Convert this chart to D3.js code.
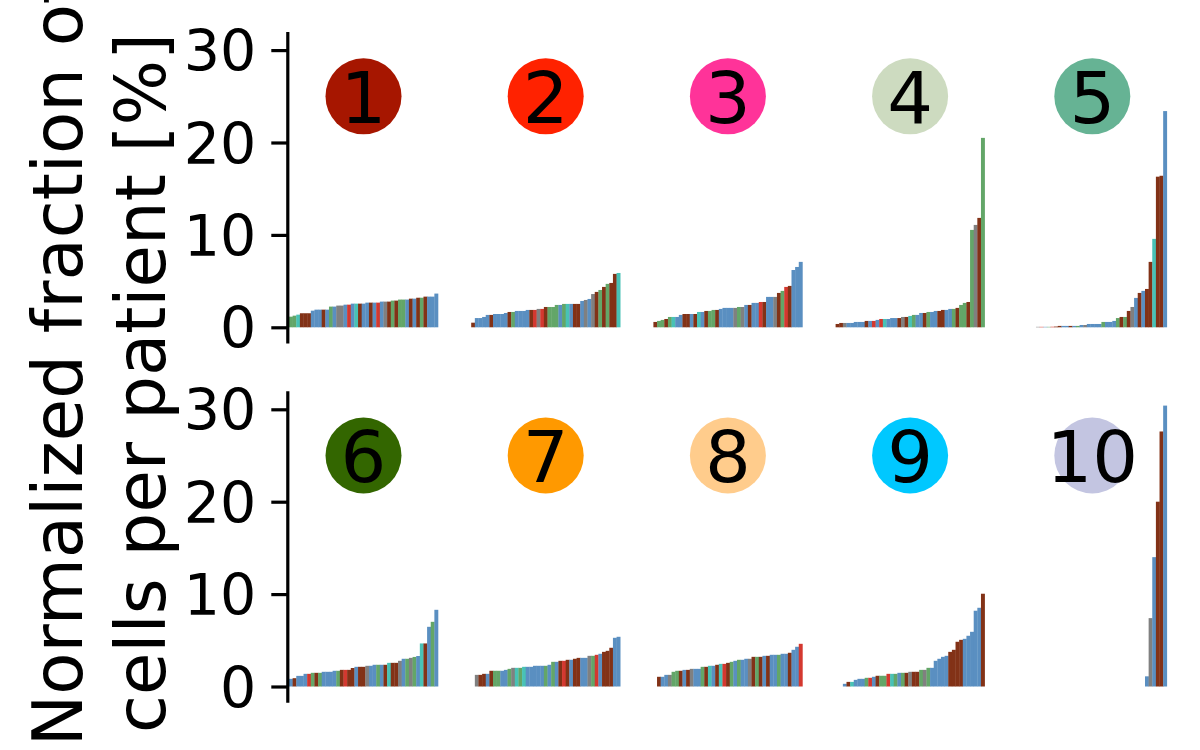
<!DOCTYPE html>
<html><head><meta charset="utf-8">
<script src="https://cdn.jsdelivr.net/npm/d3@7"></script>
<style>body{margin:0;background:#fff}svg{display:block}</style>
</head><body><svg id="c" width="1200" height="750"></svg>
<script>
// ---- data ----
const panelLabels = ["1","2","3","4","5","6","7","8","9","10"];
const panelColors = ["#a61600","#ff2200","#ff3399","#cddbc0","#66b394","#336600","#ff9900","#ffcc8c","#00c8ff","#c3c5e1"];
const yTicks = [0,10,20,30];
const groupNames = ["b","u","g","t","k","r"];
const groupColors = ["#823217","#5a8fc1","#63a668","#48c2b6","#808080","#d4382f"];

const p1Values = [1.15,1.26,1.37,1.52,1.52,1.52,1.8,1.91,1.91,1.91,1.91,2.24,2.24,2.35,2.35,2.45,2.45,2.56,2.56,2.56,2.56,2.67,2.67,2.67,2.67,2.78,2.78,2.78,2.89,2.89,3.0,3.0,3.0,3.1,3.1,3.2,3.2,3.32,3.32,3.32,3.65];
const p1Groups = "g g t b b b u u u b u g u k k u r u t b u u b u r u k b g b g g u b u b g b u u u".split(" ");
const p2Values = [0.5,1.0,1.0,1.12,1.34,1.34,1.44,1.44,1.44,1.55,1.66,1.66,1.77,1.77,1.77,1.88,1.88,1.88,1.99,1.99,2.2,2.2,2.2,2.42,2.42,2.53,2.53,2.53,2.53,2.53,2.85,2.96,3.07,3.6,3.83,4.04,4.37,4.7,4.8,5.78,5.88];
const p2Groups = "b u u u u b u u u u b g u u u u b r k r b g g g u g t u b b u k u k b g b g b b t".split(" ");
const p3Values = [0.58,0.69,0.8,0.9,1.12,1.12,1.12,1.34,1.44,1.44,1.44,1.44,1.66,1.66,1.77,1.77,1.88,1.88,1.99,2.1,2.1,2.1,2.1,2.2,2.2,2.42,2.42,2.64,2.64,2.74,2.74,3.29,3.29,3.29,3.72,3.94,4.37,4.48,6.2,6.53,7.08];
const p3Groups = "b g g b g t u u b b u b t u b g g b u u u u k g k u b u u r b u u k b g r b u u u".split(" ");
const p4Values = [0.36,0.47,0.47,0.47,0.47,0.58,0.58,0.58,0.69,0.69,0.69,0.8,0.9,0.9,0.9,1.0,1.0,1.0,1.12,1.12,1.23,1.34,1.34,1.55,1.55,1.66,1.66,1.77,1.77,1.88,1.88,1.99,1.99,2.1,2.42,2.64,2.74,10.54,11.08,11.84,20.5];
const p4Groups = "b b k u u u u u b u r u r t u u u b k b t g u u b g u u b b u u g b g g b g k b g".split(" ");
const p5Values = [0,0,0,0,0,0.05,0.05,0.05,0.05,0.06,0.08,0.15,0.15,0.15,0.15,0.15,0.15,0.25,0.25,0.36,0.36,0.36,0.36,0.58,0.58,0.58,0.69,1.0,1.12,1.12,1.77,2.2,3.18,3.72,3.94,4.15,7.08,9.57,16.3,16.4,23.4];
const p5Groups = "u u u u u k r u g r b b u u b u g u k u u u u g u u u g b g b k u b u b b t b b u".split(" ");
const p6Values = [0.83,0.9,1.15,1.15,1.37,1.37,1.48,1.48,1.48,1.59,1.59,1.59,1.7,1.7,1.8,1.8,1.8,2.0,2.13,2.13,2.13,2.24,2.24,2.35,2.35,2.35,2.35,2.56,2.56,2.56,2.78,3.0,3.0,3.1,3.2,3.3,4.66,4.66,6.46,7.0,8.3];
const p6Groups = "u b u u u r g b g u u u u g b r b b u b b k u u g u b t b b k u g k g u t b u g u".split(" ");
const p7Values = [0,1.26,1.26,1.37,1.37,1.7,1.7,1.7,1.7,1.8,1.91,2.02,2.02,2.02,2.13,2.13,2.13,2.24,2.24,2.24,2.24,2.35,2.67,2.67,2.78,2.78,2.89,2.89,3.0,3.1,3.1,3.1,3.32,3.32,3.43,3.54,3.75,3.86,4.19,5.27,5.38];
const p7Groups = "u k b b u b g g u u g k t g t u u u u u g u g u b r b u b b u u k g r u b b b u u".split(" ");
const p8Values = [0,1.05,1.05,1.26,1.26,1.59,1.7,1.7,1.8,1.8,1.91,1.91,1.91,2.13,2.13,2.24,2.24,2.35,2.45,2.45,2.56,2.67,2.78,2.89,2.89,3.0,3.0,3.21,3.21,3.21,3.32,3.32,3.43,3.43,3.43,3.54,3.54,3.65,3.97,4.3,4.62];
const p8Groups = "u b u u k g g b u b k u u g b t u b t r b g u g u u k b g b u b u u g u u b u u r".split(" ");
const p9Values = [0,0,0.29,0.5,0.5,0.72,0.83,0.83,0.94,0.94,1.05,1.16,1.16,1.16,1.37,1.37,1.37,1.48,1.48,1.48,1.59,1.59,1.59,1.8,1.8,2.02,2.02,2.78,3.0,3.21,3.32,3.75,3.97,4.84,5.05,5.16,5.49,5.92,8.2,8.52,10.04];
const p9Groups = "u u u b t u u u g r u b g g r t g u g b k b b g k g u u u u u b b b b u u u u u b".split(" ");
const p10Values = [0,0,0,0,0,0,0,0,0,0,0,0,0,0,0,0,0,0,0,0,0,0,0,0,0,0,0,0,0,0,0,0,0,0,0,1.1,7.4,14.0,20.0,27.6,30.4];
const p10Groups = "u u u u u u u u u u u u u u u u u u u u u u u u u u u u u u u u u u u u k u b b u".split(" ");

const allValues = [p1Values,p2Values,p3Values,p4Values,p5Values,p6Values,p7Values,p8Values,p9Values,p10Values];
const allGroups = [p1Groups,p2Groups,p3Groups,p4Groups,p5Groups,p6Groups,p7Groups,p8Groups,p9Groups,p10Groups];

// ---- layout ----
const svg = d3.select("#c");
const color = d3.scaleOrdinal().domain(groupNames).range(groupColors);
const pxPerUnit = 9.24;
const rowBase = [327.3, 686.5];
const panelLeft0 = 289, panelStep = 182.2, panelW = 149;
const font = "'DejaVu Sans', sans-serif";

allValues.forEach((vals, i) => {
  const row = Math.floor(i / 5), col = i % 5;
  const base = rowBase[row];
  const y = d3.scaleLinear().domain([-1.7, 32]).range([base + 1.7*pxPerUnit, base - 32*pxPerUnit]);
  const left = panelLeft0 + col * panelStep;
  const x = d3.scaleBand().domain(d3.range(vals.length)).range([left, left + panelW]).padding(0);
  const g = svg.append("g");
  const grp = allGroups[i];
  g.selectAll("rect").data(vals).join("rect")
    .attr("x", (d, k) => x(k))
    .attr("width", x.bandwidth() + 0.3)
    .attr("y", d => y(d))
    .attr("height", d => y(0) - y(d))
    .attr("fill", (d, k) => color(grp[k]));

  // badge
  const cx = left + panelW / 2, cy = y(25);
  g.append("circle").attr("cx", cx).attr("cy", cy).attr("r", 38).attr("fill", panelColors[i]);
  g.append("text").attr("x", cx).attr("y", cy).attr("dy", "0.365em")
    .attr("text-anchor", "middle").attr("font-family", font).attr("font-size", 72)
    .attr("fill", "#000").text(panelLabels[i]);

  if (col === 0) {
    const ax = svg.append("g").attr("transform", `translate(287.3,0)`)
      .call(d3.axisLeft(y).tickValues(yTicks).tickSize(16).tickSizeOuter(0).tickPadding(15).tickFormat(d3.format("d")));
    ax.select(".domain").attr("stroke", "#000").attr("stroke-width", 3.2);
    ax.selectAll(".tick line").attr("stroke", "#000").attr("stroke-width", 3.2);
    ax.selectAll(".tick text").attr("font-family", font).attr("font-size", 57).attr("fill", "#000").attr("dy", "0.36em");
  }
});

// y label
const lab = svg.append("text").attr("transform", "translate(0,375) rotate(-90)")
  .attr("text-anchor", "middle").attr("font-family", font).attr("font-size", 69).attr("fill", "#000");
lab.append("tspan").attr("x", 12).attr("y", 82).text("Normalized fraction of");
lab.append("tspan").attr("x", -8).attr("y", 165).text("cells per patient [%]");
</script></body></html>
